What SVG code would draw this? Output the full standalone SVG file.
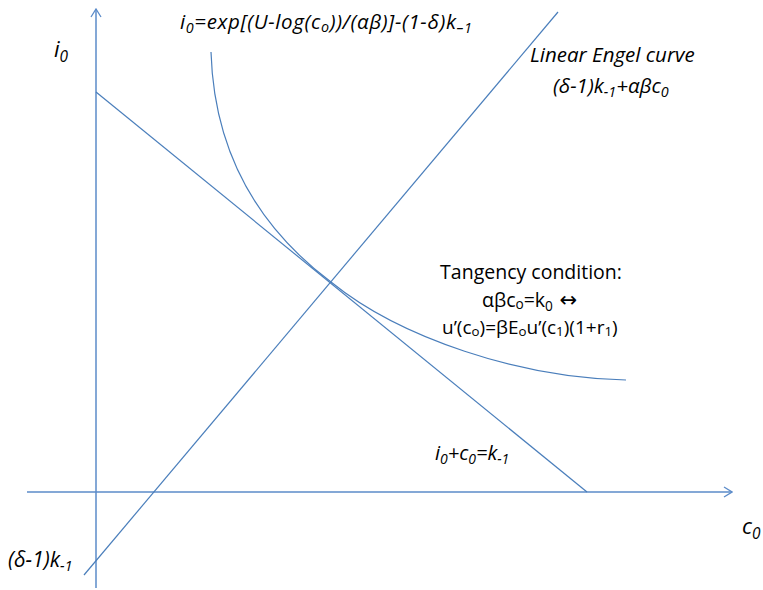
<svg xmlns="http://www.w3.org/2000/svg" width="763" height="590" viewBox="0 0 763 590">
<style>
.ln{fill:none;stroke:#4a7ebb;stroke-width:1.2}
.ax{fill:none;stroke:#5b8bc9;stroke-width:1.5}
.t{font-family:"Open Sans","Liberation Sans",sans-serif;fill:#000}
.it{font-style:italic}
.s{font-size:70%}
.ar{font-family:"DejaVu Sans",sans-serif}
</style>
<defs>
<marker id="arr" viewBox="0 0 10 12" refX="9" refY="6" markerWidth="10" markerHeight="12" markerUnits="userSpaceOnUse" orient="auto">
<path d="M1,1 L9,6 L1,11" fill="none" stroke="#5b8bc9" stroke-width="1.3"/>
</marker>
</defs>
<g id="connectors">
<line id="y-axis" class="ax" x1="96" y1="588" x2="96" y2="9" marker-end="url(#arr)"/>
<line id="x-axis" class="ax" x1="27" y1="492" x2="732" y2="492" marker-end="url(#arr)"/>
<line id="budget" class="ln" x1="96" y1="92" x2="587" y2="492"/>
<line id="engel" class="ln" x1="84" y1="575" x2="558" y2="12"/>
<path id="indiff" class="ln" d="M211,52 C214,150 255,225 331,282 C400,338 520,378 626,380"/>
</g>
<g id="label-i0"><text class="t it" x="54" y="57" font-size="22">i<tspan class="s" dy="5">0</tspan></text></g>
<g id="label-curve"><text class="t it" x="180" y="29" font-size="20.5" textLength="292" lengthAdjust="spacing">i<tspan class="s" dy="4">0</tspan><tspan dy="-4">=exp[(U-log(c</tspan><tspan class="s" dy="3">o</tspan><tspan dy="-3">))/(αβ)]-(1-δ)k</tspan><tspan class="s" dy="4">–1</tspan></text></g>
<g id="label-engel">
<text class="t it" x="530" y="62" font-size="20.5">Linear Engel curve</text>
<text class="t it" x="553" y="93" font-size="20.5">(δ-1)k<tspan class="s" dy="4">-1</tspan><tspan dy="-4">+αβc</tspan><tspan class="s" dy="4">0</tspan></text>
</g>
<g id="label-tangency">
<text class="t" x="531" y="279" font-size="19.5" text-anchor="middle">Tangency condition:</text>
<text class="t" x="482" y="307" font-size="19.5">αβc<tspan class="s" dy="2">o</tspan><tspan dy="-2">=k</tspan><tspan class="s" dy="4">0</tspan><tspan dy="-4" class="ar" font-size="21"> ↔</tspan></text>
<text class="t" x="442" y="334" font-size="19">u’(c<tspan class="s" dy="2">o</tspan><tspan dy="-2">)=βE</tspan><tspan class="s" dy="2">o</tspan><tspan dy="-2">u’(c</tspan><tspan class="s" dy="2">1</tspan><tspan dy="-2">)(1+r</tspan><tspan class="s" dy="2">1</tspan><tspan dy="-2">)</tspan></text>
</g>
<g id="label-budget"><text class="t it" x="435" y="460" font-size="20">i<tspan class="s" dy="4">0</tspan><tspan dy="-4">+c</tspan><tspan class="s" dy="4">0</tspan><tspan dy="-4">=k</tspan><tspan class="s" dy="4">-1</tspan></text></g>
<g id="label-c0"><text class="t it" x="742" y="534" font-size="22">c<tspan class="s" dy="5">0</tspan></text></g>
<g id="label-intercept"><text class="t it" x="8" y="567" font-size="21">(δ-1)k<tspan class="s" dy="4">-1</tspan></text></g>
</svg>
